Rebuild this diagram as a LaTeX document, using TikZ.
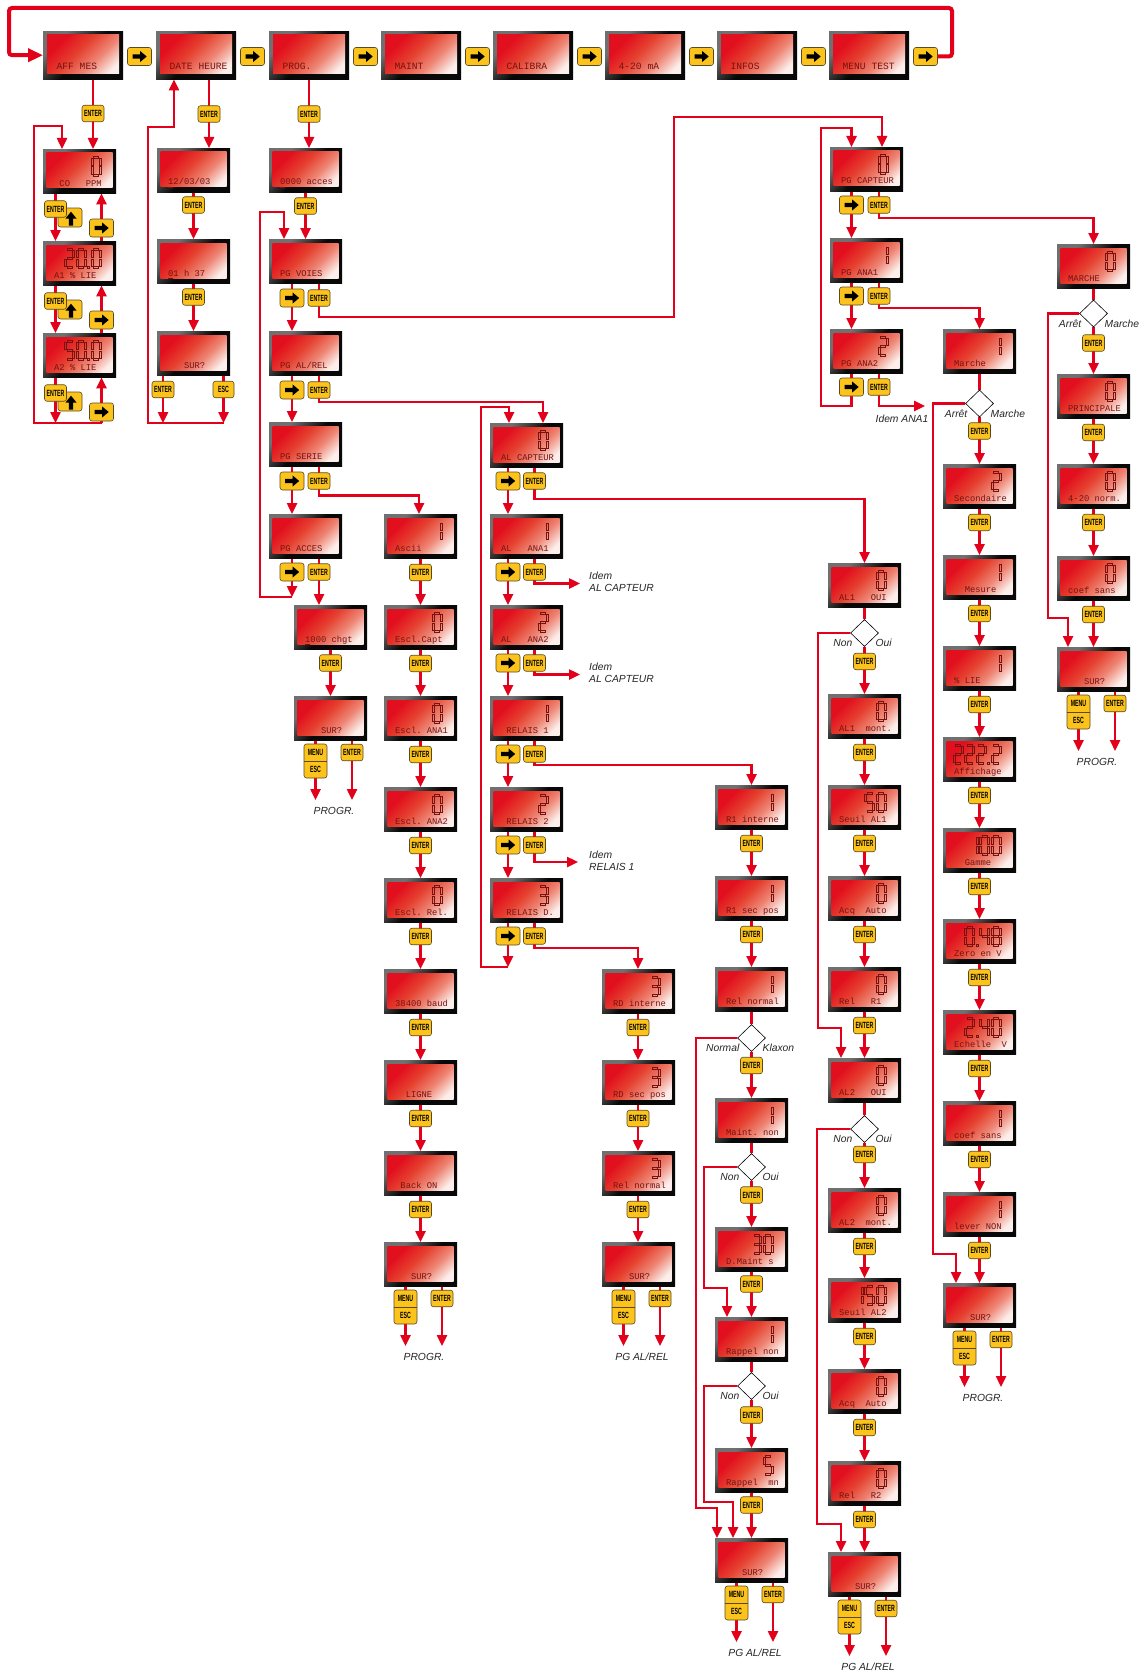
\documentclass[tikz,border=0pt]{standalone}
\usepackage{fontspec}
\setmainfont{Liberation Sans}
\newfontfamily\lcdfont{Liberation Mono}
\usetikzlibrary{arrows.meta,shapes.geometric,calc}
\definecolor{lred}{HTML}{E2001A}
\definecolor{btnY}{HTML}{FBC31C}
\definecolor{btnB}{HTML}{5A4A22}
\definecolor{lcdtx}{HTML}{761212}
\definecolor{lcdA}{HTML}{E20F1E}
\definecolor{lcdB}{HTML}{E5402F}
\definecolor{lcdC}{HTML}{EE8574}
\definecolor{lcdD}{HTML}{FCEEEA}
\definecolor{frA}{HTML}{707070}
\definecolor{frB}{HTML}{080808}
\pgfdeclareverticalshading{lcdsh}{100bp}{color(0bp)=(lcdD); color(22bp)=(lcdD); color(38bp)=(lcdC); color(55bp)=(lcdB); color(72bp)=(lcdA); color(100bp)=(lcdA)}
\pgfdeclareverticalshading{frsh}{100bp}{color(0bp)=(frB); color(50bp)=(frB); color(72bp)=(frA); color(100bp)=(frA)}
\pgfdeclarelayer{bg}
\pgfsetlayers{bg,main}
\newcommand\txENT{\scalebox{0.58}[1]{ENTER}}
\tikzset{
 conn/.style={draw=lred, line width=2.4pt},
 arr/.style={conn, -{Triangle[length=11pt,width=10pt]}},
 lcdframe/.style={shade, shading=frsh, shading angle=45, minimum width=73pt, minimum height=44pt, inner sep=0pt, anchor=north west},
 topframe/.style={lcdframe, minimum width=80pt, minimum height=48pt},
 lcdtxt/.style={anchor=base west, inner sep=0pt, text=lcdtx, font=\lcdfont\fontsize{8.8}{10}\selectfont},
 toptxt/.style={lcdtxt, font=\lcdfont\fontsize{9.6}{11}\selectfont},
 ybtn/.style={draw=btnB, fill=btnY, line width=0.6pt, rounded corners=2.5pt, inner sep=0pt},
 entb/.style={ybtn, minimum width=22pt, minimum height=16.5pt, font=\bfseries\fontsize{9}{9}\selectfont},
 btxt/.style={inner sep=0pt, font=\bfseries\fontsize{9}{9}\selectfont},
 seg/.style={draw=lcdtx, line width=0.6pt},
 dia/.style={shape=diamond, draw=black, line width=0.6pt, fill=white, minimum width=28pt, minimum height=27pt, inner sep=0pt},
 lbl/.style={inner sep=0pt, font=\itshape\fontsize{10.3}{12}\selectfont, text=black!85},
}
\newcommand\mysgA{\draw[seg] (1.4,0.1) rectangle (6.6,1.9);}
\newcommand\mysgB{\draw[seg] (7.1,2.1) rectangle (8.9,9.2);}
\newcommand\mysgC{\draw[seg] (7.1,10.8) rectangle (8.9,17.9);}
\newcommand\mysgD{\draw[seg] (1.4,18.1) rectangle (6.6,19.9);}
\newcommand\mysgE{\draw[seg] (-0.9,10.8) rectangle (0.9,17.9);}
\newcommand\mysgF{\draw[seg] (-0.9,2.1) rectangle (0.9,9.2);}
\newcommand\mysgG{\draw[seg] (1.4,9.1) rectangle (6.6,10.9);}
\newcommand\mysd[3]{\begin{scope}[shift={(#1,#2)}]%
 \ifcase#3 \mysgA\mysgB\mysgC\mysgD\mysgE\mysgF
 \or\mysgB\mysgC
 \or\mysgA\mysgB\mysgG\mysgE\mysgD
 \or\mysgA\mysgB\mysgG\mysgC\mysgD
 \or\mysgF\mysgG\mysgB\mysgC
 \or\mysgA\mysgF\mysgG\mysgC\mysgD
 \or\mysgA\mysgF\mysgG\mysgC\mysgD\mysgE
 \or\mysgA\mysgB\mysgC
 \or\mysgA\mysgB\mysgC\mysgD\mysgE\mysgF\mysgG
 \or\mysgA\mysgB\mysgC\mysgD\mysgF\mysgG
 \fi\end{scope}}
\newcommand\mydg[4]{\mysd{#1+49-#3}{#2+7}{#4}}
\newcommand\mydt[3]{\draw[seg] (#1+49-#3-1.0,#2+25.1) rectangle (#1+49-#3+1.0,#2+26.9);}
\newcommand\mylcd[4]{%
 \node[lcdframe] (#1) at (#2,#3) {};
 \shade[shading=lcdsh, shading angle=45] (#2+3.5,#3+4) rectangle (#2+69.5,#3+39);
 \node[lcdtxt] (#1-t) at (#2+11,#3+37) {#4};}
\newcommand\mytop[3]{%
 \node[topframe] (#1) at (#2,31) {};
 \shade[shading=lcdsh, shading angle=45] (#2+4,35) rectangle (#2+76,74);
 \node[toptxt] (#1-t) at (#2+13.5,70) {#3};}
\newcommand\myent[3]{\node[entb] (#1) at (#2,#3) {\txENT};}
\newcommand\myesc[3]{\node[entb, minimum width=21pt] (#1) at (#2,#3) {\scalebox{0.58}[1]{ESC}};}
\newcommand\myarr[3]{\node[ybtn, minimum width=24pt, minimum height=18pt] (#1) at (#2,#3) {};
 \begin{scope}[shift={(#2,#3)}]\fill[black] (-7,-2.2) -- (0.5,-2.2) -- (0.5,-5.6) -- (7.2,0) -- (0.5,5.6) -- (0.5,2.2) -- (-7,2.2) -- cycle;\end{scope}}
\newcommand\myup[3]{\node[ybtn, minimum width=24pt, minimum height=19pt] (#1) at (#2,#3) {};
 \begin{scope}[shift={(#2+1,#3+1)}]\fill[black] (-2.2,7) -- (-2.2,0) -- (-5.5,0) -- (0,-6.8) -- (5.5,0) -- (2.2,0) -- (2.2,7) -- cycle;\end{scope}}
\newcommand\mymenu[3]{%
 \node[ybtn, minimum width=23pt, minimum height=34pt] (#1) at (#2,#3) {};
 \draw[btnB, line width=0.6pt] (#1.west) -- (#1.east);
 \node[btxt] (#1-a) at (#2,#3-8.5) {\scalebox{0.58}[1]{MENU}};
 \node[btxt] (#1-b) at (#2,#3+8.5) {\scalebox{0.58}[1]{ESC}};}
\newcommand\myfoot[4]{%
 \mymenu{#1-m}{#2+21.5}{#3+65}
 \myent{#1-e}{#2+58}{#3+56.5}
 \coordinate (#1-me) at (#2+21.5,#3+104);
 \coordinate (#1-ee) at (#2+58,#3+104);
 \node[lbl] (#1-l) at (#2+40,#3+115) {#4};}
\newcommand\myfootc[1]{%
 \draw[arr] (#1.south -| #1-m) -- (#1-me);
 \draw[arr] (#1.south -| #1-e) -- (#1-ee);}
\newcommand\mydlab[3]{%
 \node[lbl, anchor=east] (#1-L) at ($(#1)+(-12,10)$) {#2};
 \node[lbl, anchor=west] (#1-R) at ($(#1)+(11,10)$) {#3};}
\newcommand\myul[1]{\draw[lcdtx, line width=0.7pt] ($(#1-t.base west)+(0.4,2.8)$) -- ($(#1-t.base west)+(4.8,2.8)$);}
\begin{document}
\begin{tikzpicture}[x=1pt,y=-1pt]
\useasboundingbox (0,0) rectangle (1143,1672);
\begin{pgfonlayer}{bg}\fill[white] (0,0) rectangle (1143,1672);\end{pgfonlayer}
% ---------- top row
\mytop{t0}{43}{AFF MES}
\mytop{t1}{156}{DATE HEURE}
\mytop{t2}{269}{PROG.}
\mytop{t3}{381}{MAINT}
\mytop{t4}{493}{CALIBRA}
\mytop{t5}{605}{4-20 mA}
\mytop{t6}{717}{INFOS}
\mytop{t7}{829}{MENU TEST}
\myarr{ta0}{139.5}{56.5}
\myarr{ta1}{252.5}{56.5}
\myarr{ta2}{365.5}{56.5}
\myarr{ta3}{477.5}{56.5}
\myarr{ta4}{589.5}{56.5}
\myarr{ta5}{701.5}{56.5}
\myarr{ta6}{813.5}{56.5}
\myarr{ta7}{925.5}{56.5}
\coordinate (tlB) at (952,8);
\coordinate (tlC) at (9,8);
% ---------- column A
\mylcd{a1}{43}{149}{~CO~~~PPM}
\mydg{43}{149}{0}{0}
\mylcd{a2}{43}{241}{A1~\%~LIE}
\mydg{43}{241}{26.5}{2}\mydg{43}{241}{15}{0}\mydt{43}{241}{3.5}\mydg{43}{241}{0}{0}
\mylcd{a3}{43}{333}{A2~\%~LIE}
\mydg{43}{333}{26.5}{5}\mydg{43}{333}{15}{0}\mydt{43}{333}{3.5}\mydg{43}{333}{0}{0}
\myent{ea0}{93}{113.5}
\myup{ua1}{70}{217.5}\myent{ea1}{55.5}{209}\myarr{ra1}{101.5}{228}
\myup{ua2}{70}{309.5}\myent{ea2}{55.5}{301}\myarr{ra2}{101.5}{320}
\myup{ua3}{70}{401.5}\myent{ea3}{55.5}{393}\myarr{ra3}{101.5}{412}
\coordinate (aBL) at (34,423);
\coordinate (aBR) at (101.5,423);
\coordinate (aTL) at (34,126);
\coordinate (aTR) at (62,126);
% ---------- column B
\mylcd{b1}{157}{148}{12/03/03}\myul{b1}
\mylcd{b2}{157}{239}{01~h~37}\myul{b2}
\mylcd{b3}{157}{331}{~~~SUR?}
\myent{eb0}{209}{114}
\myent{eb1}{193.5}{205}
\myent{eb2}{193.5}{297}
\myent{eb3}{163}{389.5}
\myesc{sb3}{223.5}{389.5}
\coordinate (bBL) at (148,423);
\coordinate (bBR) at (223.5,423);
\coordinate (bTL) at (148,127);
\coordinate (bTR) at (174,127);
% ---------- column C
\mylcd{c0}{269}{148}{0000~acces}\myul{c0}
\mylcd{c1}{269}{239}{PG~VOIES}
\mylcd{c2}{269}{331}{PG~AL/REL}
\mylcd{c3}{269}{422}{PG~SERIE}
\mylcd{c4}{269}{514}{PG~ACCES}
\mylcd{c5}{294}{605}{1000~chgt}\myul{c5}
\mylcd{c6}{294}{696}{~~~SUR?}
\myent{ec0}{309}{114}
\myent{ec1}{305.5}{206}
\myarr{rc1}{292}{298}\myent{xc1}{319}{298}
\myarr{rc2}{292}{390}\myent{xc2}{319}{390}
\myarr{rc3}{292}{481}\myent{xc3}{319}{481}
\myarr{rc4}{292}{572}\myent{xc4}{319}{572}
\myent{ec5}{330.5}{663}
\myfoot{c6}{294}{696}{PROGR.}
\coordinate (cLB) at (260,597);
\coordinate (cLT) at (260,212);
\coordinate (cTR) at (284,212);
\coordinate (vA) at (674,317);
\coordinate (vB) at (882,117);
\coordinate (vC) at (543,402);
\coordinate (vD) at (419,495.5);
% ---------- column D
\mylcd{d1}{384}{514}{Ascii}\mydg{384}{514}{0}{1}
\mylcd{d2}{384}{605}{Escl.Capt}\mydg{384}{605}{0}{0}
\mylcd{d3}{384}{696}{Escl.~ANA1}\mydg{384}{696}{0}{0}
\mylcd{d4}{384}{787}{Escl.~ANA2}\mydg{384}{787}{0}{0}
\mylcd{d5}{384}{878}{Escl.~Rel.}\mydg{384}{878}{0}{0}
\mylcd{d6}{384}{969}{38400~baud}
\mylcd{d7}{384}{1060}{~~LIGNE}
\mylcd{d8}{384}{1151}{~Back~ON}
\mylcd{d9}{384}{1242}{~~~SUR?}
\myent{xd1}{420.5}{572.5}
\myent{xd2}{420.5}{663.5}
\myent{xd3}{420.5}{754.5}
\myent{xd4}{420.5}{845.5}
\myent{xd5}{420.5}{936.5}
\myent{xd6}{420.5}{1027.5}
\myent{xd7}{420.5}{1118.5}
\myent{xd8}{420.5}{1209.5}
\myfoot{d9}{384}{1242}{PROGR.}
% ---------- column E
\mylcd{e1}{490}{423}{AL~CAPTEUR}\mydg{490}{423}{0}{0}
\mylcd{e2}{490}{514}{AL~~~ANA1}\mydg{490}{514}{0}{1}
\mylcd{e3}{490}{605}{AL~~~ANA2}\mydg{490}{605}{0}{2}
\mylcd{e4}{490}{696}{~RELAIS~1}\mydg{490}{696}{0}{1}
\mylcd{e5}{490}{787}{~RELAIS~2}\mydg{490}{787}{0}{2}
\mylcd{e6}{490}{878}{~RELAIS~D.}\mydg{490}{878}{0}{3}
\myarr{re1}{508}{481}\myent{xe1}{534.5}{481}
\myarr{re2}{508}{572}\myent{xe2}{534.5}{572}
\myarr{re3}{508}{663}\myent{xe3}{534.5}{663}
\myarr{re4}{508}{754}\myent{xe4}{534.5}{754}
\myarr{re5}{508}{845}\myent{xe5}{534.5}{845}
\myarr{re6}{508}{936}\myent{xe6}{534.5}{936}
\coordinate (eLB) at (481,967);
\coordinate (eTL) at (481,407);
\coordinate (eTR) at (509,407);
\coordinate (vE) at (864.5,499);
\coordinate (iE2) at (580,583.5);
\coordinate (iE3) at (580,674.5);
\coordinate (vF) at (751.5,765);
\coordinate (iE5) at (578,862);
\coordinate (vG) at (638,948);
\node[lbl, align=left, anchor=west] (le2) at (589,582) {Idem\\AL CAPTEUR};
\node[lbl, align=left, anchor=west] (le3) at (589,673) {Idem\\AL CAPTEUR};
\node[lbl, align=left, anchor=west] (le5) at (589,861) {Idem\\RELAIS 1};
% ---------- column F
\mylcd{f1}{602}{969}{RD~interne}\mydg{602}{969}{0}{3}
\mylcd{f2}{602}{1060}{RD~sec~pos}\mydg{602}{1060}{0}{3}
\mylcd{f3}{602}{1151}{Rel~normal}\mydg{602}{1151}{0}{3}
\mylcd{f4}{602}{1242}{~~~SUR?}
\myent{xf1}{638}{1027.5}
\myent{xf2}{638}{1118.5}
\myent{xf3}{638}{1209.5}
\myfoot{f4}{602}{1242}{PG AL/REL}
% ---------- column G
\mylcd{g1}{715}{785}{R1~interne}\mydg{715}{785}{0}{1}
\mylcd{g2}{715}{876}{R1~sec~pos}\mydg{715}{876}{0}{1}
\mylcd{g3}{715}{967}{Rel~normal}\mydg{715}{967}{0}{1}
\node[dia] (dG1) at (751.5,1038) {};
\mylcd{g4}{715}{1098}{Maint.~non}\mydg{715}{1098}{0}{1}
\node[dia] (dG2) at (751.5,1167) {};
\mylcd{g5}{715}{1227}{D.Maint~s}\mydg{715}{1227}{11.5}{3}\mydg{715}{1227}{0}{0}
\mylcd{g6}{715}{1317}{Rappel~non}\mydg{715}{1317}{0}{1}
\node[dia] (dG3) at (751.5,1386) {};
\mylcd{g7}{715}{1448}{Rappel~~mn}\mydg{715}{1448}{0}{5}
\mylcd{g8}{715}{1538}{~~~SUR?}
\myent{xg1}{751.5}{843.5}
\myent{xg2}{751.5}{934.5}
\myent{xg3}{751.5}{1065.5}
\myent{xg4}{751.5}{1195}
\myent{xg5}{751.5}{1284}
\myent{xg6}{751.5}{1415}
\myent{xg7}{751.5}{1505}
\mydlab{dG1}{Normal}{Klaxon}
\mydlab{dG2}{Non}{Oui}
\mydlab{dG3}{Non}{Oui}
\myfoot{g8}{715}{1538}{PG AL/REL}
\coordinate (gB1) at (696,1508);
\coordinate (gE1) at (717,1508);
\coordinate (gB2) at (704,1288);
\coordinate (gE2) at (727,1288);
\coordinate (gB3) at (704,1502);
\coordinate (gE3) at (733,1502);
% ---------- column H
\mylcd{h1}{828}{563}{AL1~~~OUI}\mydg{828}{563}{0}{0}
\node[dia] (dH1) at (864.5,633) {};
\mylcd{h2}{828}{694}{AL1~~mont.}\mydg{828}{694}{0}{0}
\mylcd{h3}{828}{785}{Seuil~AL1}\mydg{828}{785}{11.5}{5}\mydg{828}{785}{0}{0}
\mylcd{h4}{828}{876}{Acq~~Auto}\mydg{828}{876}{0}{0}
\mylcd{h5}{828}{967}{Rel~~~R1}\mydg{828}{967}{0}{0}
\mylcd{h6}{828}{1058}{AL2~~~OUI}\mydg{828}{1058}{0}{0}
\node[dia] (dH2) at (864.5,1129) {};
\mylcd{h7}{828}{1188}{AL2~~mont.}\mydg{828}{1188}{0}{0}
\mylcd{h8}{828}{1278}{Seuil~AL2}\mydg{828}{1278}{23}{1}\mydg{828}{1278}{11.5}{5}\mydg{828}{1278}{0}{0}
\mylcd{h9}{828}{1369}{Acq~~Auto}\mydg{828}{1369}{0}{0}
\mylcd{h10}{828}{1461}{Rel~~~R2}\mydg{828}{1461}{0}{0}
\mylcd{h11}{828}{1552}{~~~SUR?}
\myent{xh1}{864.5}{661.5}
\myent{xh2}{864.5}{752.5}
\myent{xh3}{864.5}{843.5}
\myent{xh4}{864.5}{934.5}
\myent{xh5}{864.5}{1025.5}
\myent{xh6}{864.5}{1154.5}
\myent{xh7}{864.5}{1246.5}
\myent{xh8}{864.5}{1336.5}
\myent{xh9}{864.5}{1427.5}
\myent{xh10}{864.5}{1519.5}
\mydlab{dH1}{Non}{Oui}
\mydlab{dH2}{Non}{Oui}
\myfoot{h11}{828}{1552}{PG AL/REL}
\coordinate (hB1) at (818,1028);
\coordinate (hE1) at (841,1028);
\coordinate (hB2) at (817,1524);
\coordinate (hE2) at (841,1524);
% ---------- PG CAPTEUR column
\mylcd{p1}{830}{147}{PG~CAPTEUR}\mydg{830}{147}{0}{0}
\mylcd{p2}{830}{238}{PG~ANA1}\mydg{830}{238}{0}{1}
\mylcd{p3}{830}{329}{PG~ANA2}\mydg{830}{329}{0}{2}
\myarr{rp1}{851.5}{205}\myent{xp1}{879}{205}
\myarr{rp2}{851.5}{296}\myent{xp2}{879}{296}
\myarr{rp3}{851.5}{387}\myent{xp3}{879}{387}
\coordinate (vH) at (1093.5,218);
\coordinate (vI) at (979.5,308);
\coordinate (pI) at (925,406);
\coordinate (pL) at (821,406);
\coordinate (pT) at (851.5,128);
\node[lbl] (lp3) at (902,418.5) {Idem ANA1};
% ---------- column I
\mylcd{i1}{943}{329}{Marche}\mydg{943}{329}{0}{1}
\node[dia] (dI) at (979.5,403.5) {};
\mylcd{i2}{943}{464}{Secondaire}\mydg{943}{464}{0}{2}
\mylcd{i3}{943}{555}{~~Mesure}\mydg{943}{555}{0}{1}
\mylcd{i4}{943}{646}{\%~LIE}\mydg{943}{646}{0}{1}
\mylcd{i5}{943}{737}{Affichage}\mydg{943}{737}{38}{2}\mydg{943}{737}{26.5}{2}\mydg{943}{737}{15}{2}\mydt{943}{737}{3.5}\mydg{943}{737}{0}{2}
\mylcd{i6}{943}{828}{~~Gamme}\mydg{943}{828}{23}{1}\mydg{943}{828}{11.5}{0}\mydg{943}{828}{0}{0}
\mylcd{i7}{943}{919}{Zero~en~V}\mydg{943}{919}{26.5}{0}\mydt{943}{919}{15}\mydg{943}{919}{11.5}{4}\mydg{943}{919}{0}{8}
\mylcd{i8}{943}{1010}{Echelle~~V}\mydg{943}{1010}{26.5}{2}\mydt{943}{1010}{15}\mydg{943}{1010}{11.5}{4}\mydg{943}{1010}{0}{0}
\mylcd{i9}{943}{1101}{coef~sans}\mydg{943}{1101}{0}{1}
\mylcd{i10}{943}{1192}{lever~NON}\mydg{943}{1192}{0}{1}
\mylcd{i11}{943}{1283}{~~~SUR?}
\myent{xi1}{979.5}{431}
\myent{xi2}{979.5}{522.5}
\myent{xi3}{979.5}{613.5}
\myent{xi4}{979.5}{704.5}
\myent{xi5}{979.5}{795.5}
\myent{xi6}{979.5}{886.5}
\myent{xi7}{979.5}{977.5}
\myent{xi8}{979.5}{1068.5}
\myent{xi9}{979.5}{1159.5}
\myent{xi10}{979.5}{1250.5}
\mydlab{dI}{Arrêt}{Marche}
\myfoot{i11}{943}{1283}{PROGR.}
\coordinate (iB) at (933,1254);
\coordinate (iE) at (956,1254);
% ---------- column J
\mylcd{j1}{1057}{244}{MARCHE}\mydg{1057}{244}{0}{0}
\node[dia] (dJ) at (1093.5,313.5) {};
\mylcd{j2}{1057}{374}{PRINCIPALE}\mydg{1057}{374}{0}{0}
\mylcd{j3}{1057}{464}{4-20~norm.}\mydg{1057}{464}{0}{0}
\mylcd{j4}{1057}{556}{coef~sans}\mydg{1057}{556}{0}{0}
\mylcd{j5}{1057}{647}{~~~SUR?}
\myent{xj1}{1093.5}{343}
\myent{xj2}{1093.5}{432.5}
\myent{xj3}{1093.5}{522.5}
\myent{xj4}{1093.5}{614.5}
\mydlab{dJ}{Arrêt}{Marche}
\myfoot{j5}{1057}{647}{PROGR.}
\coordinate (jB) at (1048,618);
\coordinate (jE) at (1068,618);
% =================== connectors
\begin{pgfonlayer}{bg}
\draw[lred, line width=4pt, rounded corners=3pt, -{Triangle[length=15pt,width=13pt]}] (ta7.east) -| (tlB) -- (tlC) |- (t0.west);
% A
\draw[arr] (t0.south -| ea0) -- (a1.north -| ea0);
\draw[arr] (a1.south -| ea1) -- (a2.north -| ea1);
\draw[arr] (a2.south -| ea2) -- (a3.north -| ea2);
\draw[arr] (a3.south -| ea3) -- (ea3 |- aBL);
\draw[arr] (a2.north -| ra1) -- (a1.south -| ra1);
\draw[arr] (a3.north -| ra2) -- (a2.south -| ra2);
\draw[arr] (aBR) -- (a3.south -| ra3);
\draw[arr] (aBR) -- (aBL) -- (aTL) -- (aTR) -- (a1.north -| aTR);
% B
\draw[arr] (t1.south -| eb0) -- (b1.north -| eb0);
\draw[arr] (b1.south -| eb1) -- (b2.north -| eb1);
\draw[arr] (b2.south -| eb2) -- (b3.north -| eb2);
\draw[arr] (b3.south -| eb3) -- (eb3 |- bBL);
\draw[arr] (b3.south -| sb3) -- (bBR);
\draw[arr] (bBR) -- (bBL) -- (bTL) -- (bTR) -- (t1.south -| bTR);
% C
\draw[arr] (t2.south -| ec0) -- (c0.north -| ec0);
\draw[arr] (c0.south -| ec1) -- (c1.north -| ec1);
\draw[arr] (c1.south -| rc1) -- (c2.north -| rc1);
\draw[arr] (c2.south -| rc2) -- (c3.north -| rc2);
\draw[arr] (c3.south -| rc3) -- (c4.north -| rc3);
\draw[arr] (c4.south -| rc4) -- (rc4 |- cLB);
\draw[arr] (rc4 |- cLB) -- (cLB) -- (cLT) -- (cTR) -- (c1.north -| cTR);
\draw[arr] (c1.south -| xc1) |- (vA) |- (vB) -- (p1.north -| vB);
\draw[arr] (c2.south -| xc2) |- (vC) -- (e1.north -| vC);
\draw[arr] (c3.south -| xc3) |- (vD) -- (d1.north -| vD);
\draw[arr] (c4.south -| xc4) -- (c5.north -| xc4);
\draw[arr] (c5.south -| ec5) -- (c6.north -| ec5);
\myfootc{c6}
% D
\draw[arr] (d1.south -| xd1) -- (d2.north -| xd1);
\draw[arr] (d2.south -| xd2) -- (d3.north -| xd2);
\draw[arr] (d3.south -| xd3) -- (d4.north -| xd3);
\draw[arr] (d4.south -| xd4) -- (d5.north -| xd4);
\draw[arr] (d5.south -| xd5) -- (d6.north -| xd5);
\draw[arr] (d6.south -| xd6) -- (d7.north -| xd6);
\draw[arr] (d7.south -| xd7) -- (d8.north -| xd7);
\draw[arr] (d8.south -| xd8) -- (d9.north -| xd8);
\myfootc{d9}
% E
\draw[arr] (e1.south -| re1) -- (e2.north -| re1);
\draw[arr] (e2.south -| re2) -- (e3.north -| re2);
\draw[arr] (e3.south -| re3) -- (e4.north -| re3);
\draw[arr] (e4.south -| re4) -- (e5.north -| re4);
\draw[arr] (e5.south -| re5) -- (e6.north -| re5);
\draw[arr] (e6.south -| re6) -- (re6 |- eLB);
\draw[arr] (re6 |- eLB) -- (eLB) -- (eTL) -- (eTR) -- (e1.north -| eTR);
\draw[arr] (e1.south -| xe1) |- (vE) -- (h1.north -| vE);
\draw[arr] (e2.south -| xe2) |- (iE2);
\draw[arr] (e3.south -| xe3) |- (iE3);
\draw[arr] (e4.south -| xe4) |- (vF) -- (g1.north -| vF);
\draw[arr] (e5.south -| xe5) |- (iE5);
\draw[arr] (e6.south -| xe6) |- (vG) -- (f1.north -| vG);
% F
\draw[arr] (f1.south -| xf1) -- (f2.north -| xf1);
\draw[arr] (f2.south -| xf2) -- (f3.north -| xf2);
\draw[arr] (f3.south -| xf3) -- (f4.north -| xf3);
\myfootc{f4}
% G
\draw[arr] (g1.south -| xg1) -- (g2.north -| xg1);
\draw[arr] (g2.south -| xg2) -- (g3.north -| xg2);
\draw[conn] (g3.south -| dG1) -- (dG1.north);
\draw[arr] (dG1.south) -- (g4.north -| dG1);
\draw[conn] (g4.south -| dG2) -- (dG2.north);
\draw[arr] (dG2.south) -- (g5.north -| dG2);
\draw[arr] (g5.south -| xg5) -- (g6.north -| xg5);
\draw[conn] (g6.south -| dG3) -- (dG3.north);
\draw[arr] (dG3.south) -- (g7.north -| dG3);
\draw[arr] (g7.south -| xg7) -- (g8.north -| xg7);
\draw[arr] (dG1.west) -| (gB1) -- (gE1) -- (g8.north -| gE1);
\draw[arr] (dG2.west) -| (gB2) -- (gE2) -- (g6.north -| gE2);
\draw[arr] (dG3.west) -| (gB3) -- (gE3) -- (g8.north -| gE3);
\myfootc{g8}
% H
\draw[conn] (h1.south -| dH1) -- (dH1.north);
\draw[arr] (dH1.south) -- (h2.north -| dH1);
\draw[arr] (h2.south -| xh2) -- (h3.north -| xh2);
\draw[arr] (h3.south -| xh3) -- (h4.north -| xh3);
\draw[arr] (h4.south -| xh4) -- (h5.north -| xh4);
\draw[arr] (h5.south -| xh5) -- (h6.north -| xh5);
\draw[conn] (h6.south -| dH2) -- (dH2.north);
\draw[arr] (dH2.south) -- (h7.north -| dH2);
\draw[arr] (h7.south -| xh7) -- (h8.north -| xh7);
\draw[arr] (h8.south -| xh8) -- (h9.north -| xh8);
\draw[arr] (h9.south -| xh9) -- (h10.north -| xh9);
\draw[arr] (h10.south -| xh10) -- (h11.north -| xh10);
\draw[arr] (dH1.west) -| (hB1) -- (hE1) -- (h6.north -| hE1);
\draw[arr] (dH2.west) -| (hB2) -- (hE2) -- (h11.north -| hE2);
\myfootc{h11}
% P
\draw[arr] (p1.south -| rp1) -- (p2.north -| rp1);
\draw[arr] (p2.south -| rp2) -- (p3.north -| rp2);
\draw[arr] (p3.south -| rp3) |- (pL) |- (pT) -- (p1.north -| pT);
\draw[arr] (p1.south -| xp1) |- (vH) -- (j1.north -| vH);
\draw[arr] (p2.south -| xp2) |- (vI) -- (i1.north -| vI);
\draw[arr] (p3.south -| xp3) |- (pI);
% I
\draw[conn] (i1.south -| dI) -- (dI.north);
\draw[arr] (dI.south) -- (i2.north -| dI);
\draw[arr] (i2.south -| xi2) -- (i3.north -| xi2);
\draw[arr] (i3.south -| xi3) -- (i4.north -| xi3);
\draw[arr] (i4.south -| xi4) -- (i5.north -| xi4);
\draw[arr] (i5.south -| xi5) -- (i6.north -| xi5);
\draw[arr] (i6.south -| xi6) -- (i7.north -| xi6);
\draw[arr] (i7.south -| xi7) -- (i8.north -| xi7);
\draw[arr] (i8.south -| xi8) -- (i9.north -| xi8);
\draw[arr] (i9.south -| xi9) -- (i10.north -| xi9);
\draw[arr] (i10.south -| xi10) -- (i11.north -| xi10);
\draw[arr] (dI.west) -| (iB) -- (iE) -- (i11.north -| iE);
\myfootc{i11}
% J
\draw[conn] (j1.south -| dJ) -- (dJ.north);
\draw[arr] (dJ.south) -- (j2.north -| dJ);
\draw[arr] (j2.south -| xj2) -- (j3.north -| xj2);
\draw[arr] (j3.south -| xj3) -- (j4.north -| xj3);
\draw[arr] (j4.south -| xj4) -- (j5.north -| xj4);
\draw[arr] (dJ.west) -| (jB) -- (jE) -- (j5.north -| jE);
\myfootc{j5}
\end{pgfonlayer}
\end{tikzpicture}
\end{document}
